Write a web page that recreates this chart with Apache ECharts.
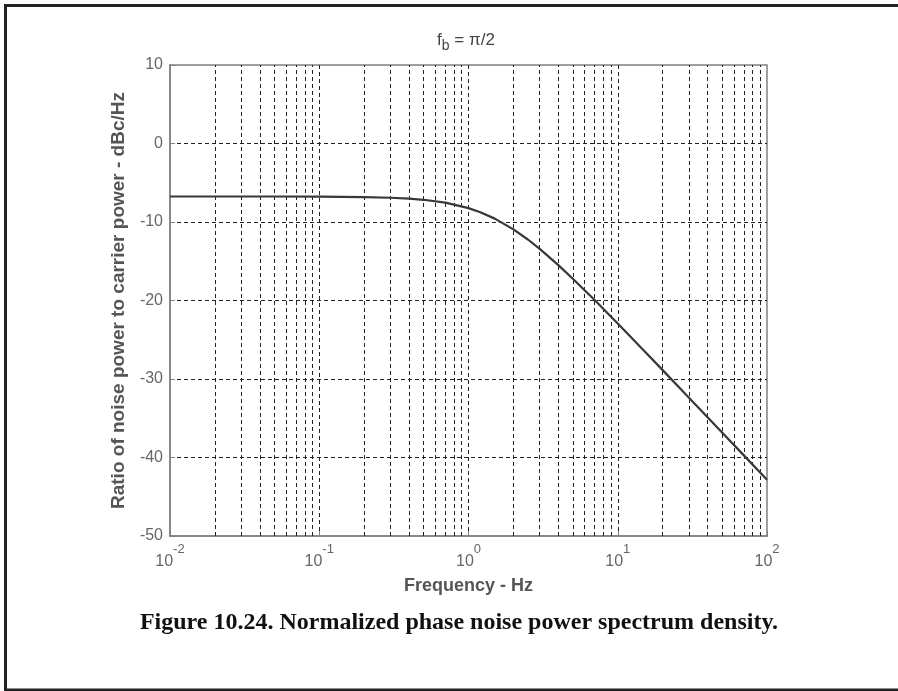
<!DOCTYPE html>
<html>
<head>
<meta charset="utf-8">
<style>
html,body{margin:0;padding:0;background:#fff;}
#chart{width:898px;height:691px;}
</style>
<script src="https://cdn.jsdelivr.net/npm/echarts@6/dist/echarts.min.js"></script>
</head>
<body>
<div id="chart"></div>
<script>
// ---- data ----
const freqHz = [0.01, 0.02, 0.05, 0.1, 0.2, 0.3, 0.4, 0.5, 0.7, 1, 1.2, 1.5, 2, 2.5, 3, 4, 5, 7, 10, 15, 20, 30, 50, 70, 100];
const psdDb  = [-6.75, -6.75, -6.75, -6.77, -6.82, -6.91, -7.02, -7.17, -7.54, -8.23, -8.75, -9.57, -10.94, -12.23, -13.42, -15.49, -17.22, -19.94, -22.93, -26.40, -28.87, -32.38, -36.81, -39.73, -42.83];
const minorFreqs = [0.02,0.03,0.04,0.05,0.06,0.07,0.08,0.09,
                    0.2,0.3,0.4,0.5,0.6,0.7,0.8,0.9,
                    2,3,4,5,6,7,8,9,
                    20,30,40,50,60,70,80,90];
const xMin = 0.01, xMax = 100;
const yMin = -50, yMax = 10, yStep = 10;
const titleText = '{a|f}{sub|b}{a| = π/2}';
const xName = 'Frequency - Hz';
const yName = 'Ratio of noise power to carrier power - dBc/Hz';
const caption = 'Figure 10.24. Normalized phase noise power spectrum density.';

const chart = echarts.init(document.getElementById('chart'), null, {renderer:'canvas'});
const gridL = 170, gridT = 65, gridR = 131, gridB = 155;
const font = 'Liberation Sans, Arial, sans-serif';
const dash = [4, 3];

chart.setOption({
  animation: false,
  backgroundColor: '#fff',
  grid: {left: gridL, top: gridT, right: gridR, bottom: gridB, show: true, borderColor: '#808080', borderWidth: 1.5, backgroundColor: 'transparent'},
  xAxis: {
    type: 'log', logBase: 10, min: xMin, max: xMax,
    name: xName, nameLocation: 'middle', nameGap: 41,
    nameTextStyle: {fontFamily: font, fontSize: 18, fontWeight: 'bold', color: '#555'},
    axisLine: {onZero: false, lineStyle: {color: '#808080', width: 1.5}},
    axisTick: {inside: true, length: 5, lineStyle: {color: '#808080'}},
    axisLabel: {
      margin: 7, color: '#666', fontFamily: font,
      formatter: v => '{b|10}{s|' + Math.round(Math.log10(v)) + '}',
      rich: {
        b: {fontSize: 16, lineHeight: 37, fontFamily: font, color: '#666'},
        s: {fontSize: 13, lineHeight: 13, verticalAlign: 'top', fontFamily: font, color: '#666'}
      }
    },
    splitLine: {show: true, showMinLine: false, showMaxLine: false, lineStyle: {type: dash, color: '#222', width: 1}}
  },
  yAxis: {
    type: 'value', min: yMin, max: yMax, interval: yStep,
    name: yName, nameLocation: 'middle', nameGap: 42,
    nameTextStyle: {fontFamily: font, fontSize: 19, fontWeight: 'bold', color: '#555'},
    axisLine: {show: true, onZero: false, lineStyle: {color: '#808080', width: 1.5}},
    axisTick: {show: true, inside: true, length: 5, lineStyle: {color: '#808080'}},
    axisLabel: {margin: 7, fontSize: 16, color: '#666', fontFamily: font},
    splitLine: {show: true, showMinLine: false, showMaxLine: false, lineStyle: {type: dash, color: '#222', width: 1}}
  },
  series: [
    {
      type: 'line', data: [], z: 1, silent: true,
      markLine: {
        silent: true, symbol: ['none', 'none'], label: {show: false}, animation: false,
        lineStyle: {type: dash, color: '#222', width: 1},
        emphasis: {disabled: true},
        data: minorFreqs.map(f => ({xAxis: f}))
      }
    },
    {
      type: 'line', z: 5, showSymbol: false, symbol: 'none',
      data: freqHz.map((f, i) => [f, psdDb[i]]),
      lineStyle: {color: '#383838', width: 2.2}
    }
  ],
  graphic: [
    {type: 'rect', z: -10, shape: {x: 5.5, y: 5.5, width: 1000, height: 684.5}, style: {fill: 'none', stroke: '#222', lineWidth: 3}},
    {type: 'text', x: 466, y: 32, style: {
      text: titleText, align: 'center', verticalAlign: 'top',
      rich: {
        a: {fontSize: 17, lineHeight: 17, verticalAlign: 'top', fontFamily: font, fill: '#444'},
        sub: {fontSize: 14, lineHeight: 29, fontFamily: font, fill: '#444'}
      }
    }},
    {type: 'text', x: 459, y: 611, style: {
      text: caption, align: 'center', verticalAlign: 'top',
      font: 'bold 24px "Liberation Serif", "Times New Roman", serif', fill: '#111'
    }}
  ]
});
</script>
</body>
</html>
